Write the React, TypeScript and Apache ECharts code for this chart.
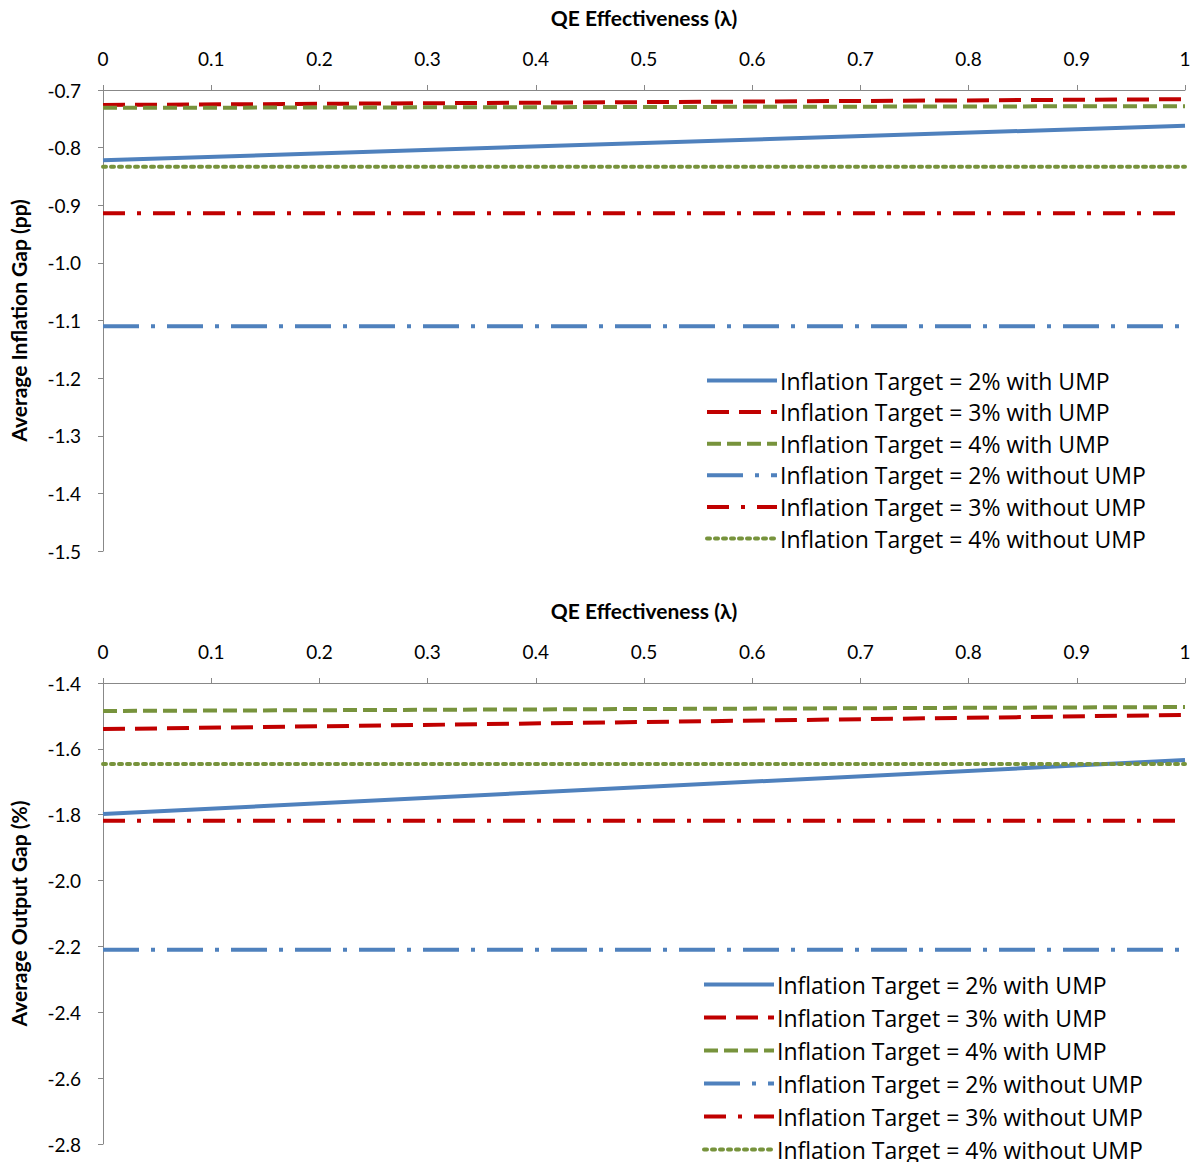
import { useEffect, useRef } from "react"
import * as echarts from "echarts"

const lambda = [0, 1]
const xTicks = ["0", "0.1", "0.2", "0.3", "0.4", "0.5", "0.6", "0.7", "0.8", "0.9", "1"]

const seriesNames = [
  "Inflation Target = 2% with UMP",
  "Inflation Target = 3% with UMP",
  "Inflation Target = 4% with UMP",
  "Inflation Target = 2% without UMP",
  "Inflation Target = 3% without UMP",
  "Inflation Target = 4% without UMP",
]

const inflationGap = [
  [-0.822, -0.762],
  [-0.726, -0.716],
  [-0.731, -0.728],
  [-1.11, -1.11],
  [-0.914, -0.914],
  [-0.833, -0.833],
]

const outputGap = [
  [-1.798, -1.634],
  [-1.54, -1.497],
  [-1.485, -1.473],
  [-2.21, -2.21],
  [-1.818, -1.818],
  [-1.646, -1.646],
]

const blue = "#4f81bd"
const red = "#c00000"
const green = "#77933c"

const styles: any[] = [
  { color: blue, width: 4, type: "solid" },
  { color: red, width: 4, type: [22, 10] },
  { color: green, width: 4, type: [14, 6] },
  { color: blue, width: 4, type: [36, 12, 4, 12] },
  { color: red, width: 4, type: [22, 12, 4, 12] },
  { color: green, width: 4, type: [3, 5], cap: "round" },
]

const font = "Lato, 'Open Sans', sans-serif"
const legendFont = "'Open Sans', Lato, sans-serif"

export default function App() {
  const ref = useRef<HTMLDivElement>(null)

  useEffect(() => {
    if (!ref.current) return
    const chart = echarts.init(ref.current, null, { renderer: "svg" })

    const xAxis = (gridIndex: number) => ({
      type: "value",
      gridIndex,
      position: "top",
      min: 0,
      max: 1,
      interval: 0.1,
      name: "QE Effectiveness (λ)",
      nameLocation: "middle",
      nameGap: 62,
      nameTextStyle: { fontSize: 21, fontWeight: "bold", color: "#000", fontFamily: font },
      axisLine: { show: true, lineStyle: { color: "#888" } },
      axisTick: { show: true, inside: false, length: 5, lineStyle: { color: "#888" } },
      axisLabel: {
        fontSize: 19, color: "#000", fontFamily: font, margin: 22,
        formatter: (v: number) => xTicks[Math.round(v * 10)],
      },
      splitLine: { show: false },
    })

    const yAxis = (gridIndex: number, min: number, max: number, interval: number, name: string) => ({
      type: "value",
      gridIndex,
      min,
      max,
      interval,
      name,
      nameLocation: "middle",
      nameGap: 74,
      nameTextStyle: { fontSize: 21, fontWeight: "bold", color: "#000", fontFamily: font },
      axisLine: { show: true, lineStyle: { color: "#888" } },
      axisTick: { show: true, length: 5, lineStyle: { color: "#888" } },
      axisLabel: {
        fontSize: 19, color: "#000", fontFamily: font, margin: 22,
        formatter: (v: number) => v.toFixed(1),
      },
      splitLine: { show: false },
    })

    const makeSeries = (data: number[][], idx: number) =>
      data.map((vals, i) => ({
        name: seriesNames[i],
        type: "line",
        xAxisIndex: idx,
        yAxisIndex: idx,
        data: lambda.map((x, j) => [x, vals[j]]),
        symbol: "none",
        lineStyle: styles[i],
        itemStyle: { color: styles[i].color },
      }))

    const legend = (top: number, left: number, gap: number) => ({
      orient: "vertical",
      left,
      top,
      height: 320,
      itemWidth: 70,
      itemHeight: 20,
      itemGap: gap,
      data: seriesNames,
      itemStyle: { opacity: 0 },
      lineStyle: { width: 4 },
      textStyle: { fontSize: 23, lineHeight: 20, color: "#000", fontFamily: legendFont, padding: [0, 0, 0, -2] },
      selectedMode: false,
    })

    chart.setOption({
      animation: false,
      grid: [
        { left: 103, right: 9, top: 90, height: 461, outerBoundsMode: "none" },
        { left: 103, right: 9, top: 683, height: 461, outerBoundsMode: "none" },
      ],
      xAxis: [xAxis(0), xAxis(1)],
      yAxis: [
        yAxis(0, -1.5, -0.7, 0.1, "Average Inflation Gap (pp)"),
        yAxis(1, -2.8, -1.4, 0.2, "Average Output Gap (%)"),
      ],
      legend: [legend(364, 700, 8.6), legend(968, 697, 10)],
      series: [...makeSeries(inflationGap, 0), ...makeSeries(outputGap, 1)],
    })

    return () => chart.dispose()
  }, [])

  return (
    <div
      ref={ref}
      style={{ position: "absolute", left: 0, top: 0, width: 1194, height: 1162, background: "#fff" }}
    />
  )
}
